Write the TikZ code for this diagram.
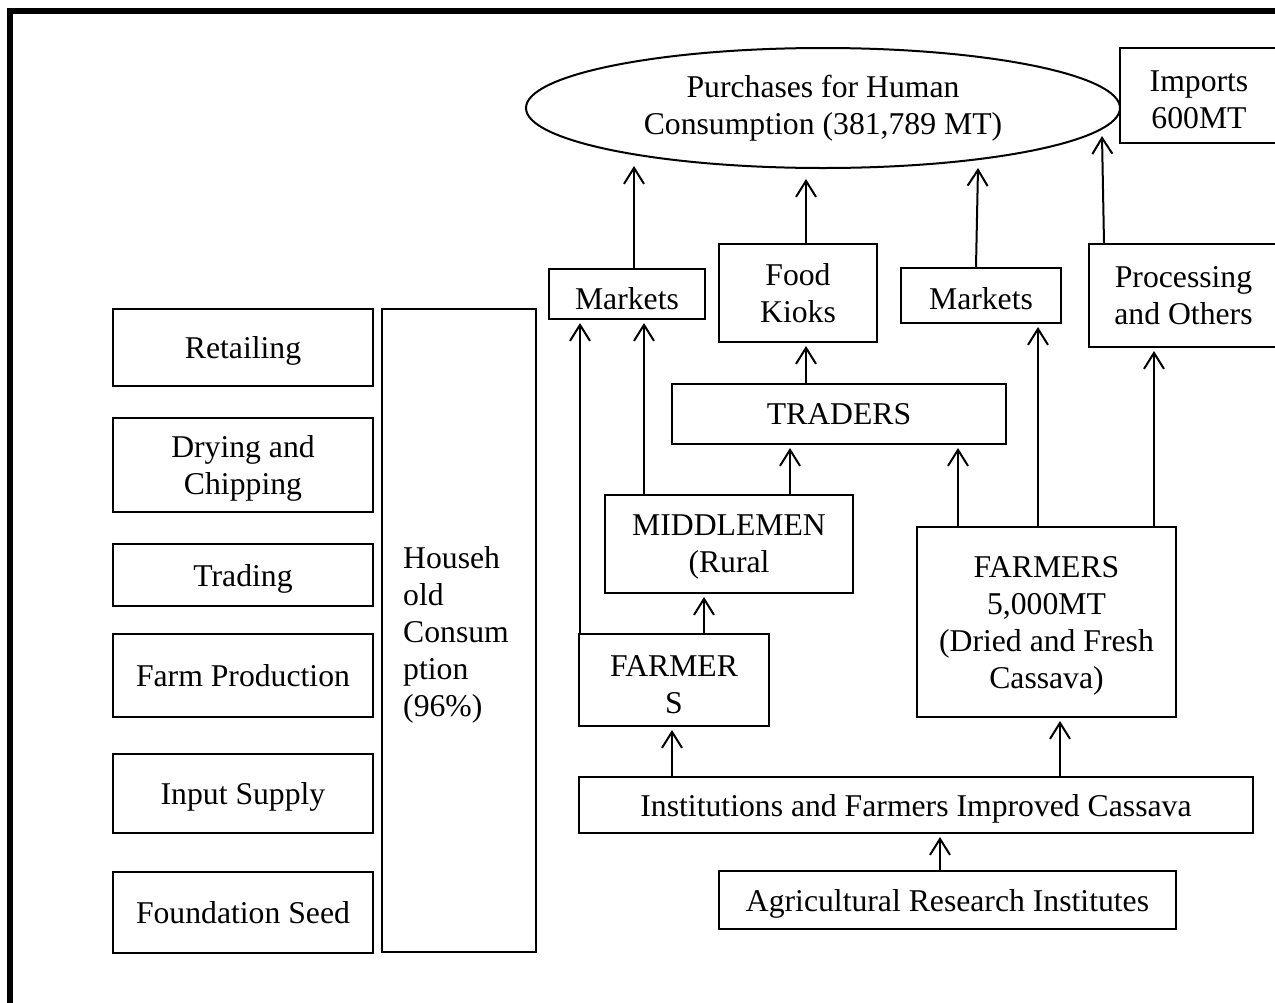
\documentclass[tikz,border=0pt]{standalone}
\usepackage{fontspec}
\setmainfont{Liberation Serif}
\usetikzlibrary{shapes.geometric,arrows.meta}
\begin{document}
\begin{tikzpicture}[x=1pt,y=-1pt,
  font=\fontsize{31.7}{37}\selectfont,
  box/.style={draw, line width=2pt, inner sep=0pt, align=center, text depth=0pt},
  ellbox/.style={draw, line width=2pt, inner sep=0pt, align=center, ellipse},
  arr/.style={line width=2pt, -{Straight Barb[length=16pt,width=20pt]}, shorten >=3pt}]
\useasboundingbox (0,0) rectangle (1275,1002);
\begin{scope}
\clip (0,0) rectangle (1275,1002);
\draw[line width=5.5pt] (10,11) rectangle (1320,1040);

% top
\node[ellbox, minimum width=594pt, minimum height=120pt] (ell) at (823,108)
  {Purchases for Human\\Consumption (381,789 MT)};
\node[box, minimum width=158pt, minimum height=95pt, text height=66pt] (imp) at (1199,95.5) {Imports\\600MT};

% second row
\node[box, minimum width=156pt, minimum height=50pt, text height=30pt] (m1) at (627,294) {Markets};
\node[box, minimum width=158pt, minimum height=98pt] (fk) at (798,293) {Food\\Kioks};
\node[box, minimum width=160pt, minimum height=55pt, text height=28pt] (m2) at (981,295.5) {Markets};
\node[box, minimum width=189pt, minimum height=103pt] (proc) at (1183.5,295.5) {Processing\\and Others};

% middle
\node[box, minimum width=334pt, minimum height=60pt] (tr) at (839,414) {TRADERS};
\node[box, minimum width=248pt, minimum height=98pt] (mid) at (729,544) {MIDDLEMEN\\(Rural};
\node[box, minimum width=190pt, minimum height=92pt, text height=67pt] (fl) at (674,680) {FARMER\\S};
\node[box, minimum width=259pt, minimum height=190pt] (fr) at (1046.5,622)
  {FARMERS\\5,000MT\\(Dried and Fresh\\Cassava)};
\node[box, minimum width=674pt, minimum height=56pt] (inst) at (916,805)
  {Institutions and Farmers Improved Cassava};
\node[box, minimum width=457pt, minimum height=58pt] (agri) at (947.5,900)
  {Agricultural Research Institutes};

% left column
\node[box, minimum width=260pt, minimum height=77pt] (ret) at (243,347.5) {Retailing};
\node[box, minimum width=260pt, minimum height=94pt] (dry) at (243,465) {Drying and\\Chipping};
\node[box, minimum width=260pt, minimum height=62pt] (trd) at (243,575) {Trading};
\node[box, minimum width=260pt, minimum height=83pt] (farm) at (243,675.5) {Farm Production};
\node[box, minimum width=260pt, minimum height=79pt] (inp) at (243,793.5) {Input Supply};
\node[box, minimum width=260pt, minimum height=81pt] (fs) at (243,912.5) {Foundation Seed};
\node[box, minimum width=154pt, minimum height=643pt] (hh) at (459,630.5) {};
\node[inner sep=0pt, align=left, anchor=west] (hht) at (403,635)
  {Househ\\old\\Consum\\ption\\(96\%)};

% arrow tips at the ellipse
\coordinate (t1) at (634,166);
\coordinate (t2) at (806,179);
\coordinate (t3) at (978,168);
\coordinate (t4) at (1102,136);

\draw[arr, shorten >=0pt] (m1.north -| 634,0) -- (t1);
\draw[arr, shorten >=0pt] (fk.north -| 806,0) -- (t2);
\draw[arr, shorten >=0pt] (m2.north -| 976,0) -- (t3);
\draw[arr, shorten >=0pt] (proc.north -| 1104,0) -- (t4);

\draw[arr] (fl.north -| 580,0) -- (m1.south -| 580,0);
\draw[arr] (mid.north -| 644,0) -- (m1.south -| 644,0);
\draw[arr] (mid.north -| 790,0) -- (tr.south -| 790,0);
\draw[arr] (tr.north -| 806,0) -- (fk.south -| 806,0);
\draw[arr] (fl.north -| 704,0) -- (mid.south -| 704,0);
\draw[arr] (fr.north -| 958,0) -- (tr.south -| 958,0);
\draw[arr] (fr.north -| 1038,0) -- (m2.south -| 1038,0);
\draw[arr] (fr.north -| 1154,0) -- (proc.south -| 1154,0);
\draw[arr] (inst.north -| 672,0) -- (fl.south -| 672,0);
\draw[arr] (inst.north -| 1060,0) -- (fr.south -| 1060,0);
\draw[arr] (agri.north -| 940,0) -- (inst.south -| 940,0);
\end{scope}
\end{tikzpicture}
\end{document}
